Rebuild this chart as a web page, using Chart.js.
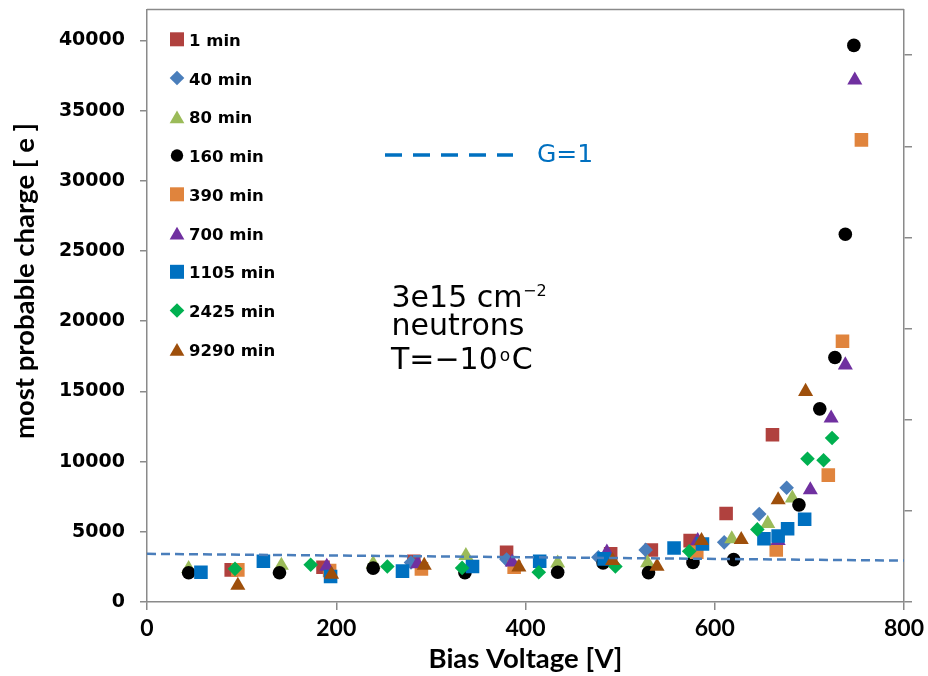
<!DOCTYPE html>
<html>
<head>
<meta charset="utf-8">
<script src="https://cdn.jsdelivr.net/npm/chart.js@4/dist/chart.umd.min.js"></script>
<style>
  html, body { margin: 0; padding: 0; background: #fff; overflow: hidden; }
  canvas { display: block; }
</style>
</head>
<body>
<canvas id="chart" width="928" height="676"></canvas>
<script>
// series names shown in the legend
var seriesNames = ['1 min', '40 min', '80 min', '160 min', '390 min', '700 min', '1105 min', '2425 min', '9290 min'];

// bias voltage [V] and most probable charge [e] per annealing time
var v1 = [89, 186, 282, 380, 490, 533, 574, 612, 661];
var q1 = [2290, 2480, 2900, 3540, 3430, 3710, 4370, 6300, 11920];

var v40 = [279, 380, 477, 527, 610, 647, 676];
var q40 = [2810, 3020, 3190, 3710, 4250, 6260, 8140];

var v80 = [44, 142, 239, 337, 434, 529, 618, 656, 682];
var q80 = [2380, 2600, 2720, 3300, 2760, 2780, 4490, 5590, 7390];

var v160 = [44, 140, 239, 336, 434, 482, 530, 577, 620, 689, 711, 727, 738, 747];
var q160 = [2080, 2080, 2410, 2080, 2120, 2780, 2090, 2820, 3020, 6920, 13760, 17420, 26200, 39650];

var v390 = [96, 193, 290, 388, 581, 665, 720, 735, 755];
var q390 = [2290, 2240, 2360, 2480, 3540, 3710, 9040, 18580, 32920];

var v700 = [190, 286, 386, 486, 582, 667, 701, 723, 738, 748];
var q700 = [2530, 2720, 2830, 3540, 4370, 4370, 7980, 13100, 16880, 37170];

var v1105 = [57, 123, 194, 270, 344, 415, 483, 557, 587, 652, 667, 677, 695];
var q1105 = [2120, 2900, 1820, 2200, 2530, 2900, 3070, 3850, 4130, 4510, 4700, 5220, 5900];

var v2425 = [93, 173, 254, 333, 414, 495, 573, 645, 698, 715, 724];
var q2425 = [2360, 2650, 2530, 2430, 2120, 2530, 3610, 5170, 10200, 10100, 11680];

var v9290 = [96, 195, 293, 393, 492, 539, 586, 628, 667, 696];
var q9290 = [1180, 1960, 2600, 2480, 2950, 2530, 4370, 4440, 7270, 14990];

// G=1 reference line
var gV = [0, 800];
var gQ = [3430, 2950];

var xTicks = [0, 200, 400, 600, 800];

var colors = ['#B0413E', '#4A7EBB', '#9BBB59', '#000000', '#E0843D', '#7030A0', '#0070C0', '#00B050', '#9E4F0B'];
var styles = ['rect', 'rectRot', 'triangle', 'circle', 'rect', 'triangle', 'rect', 'rectRot', 'triangle'];
var radii = { rect: 9.6, rectRot: 7.3, triangle: 8.7, circle: 6.8 };

var allV = [v1, v40, v80, v160, v390, v700, v1105, v2425, v9290];
var allQ = [q1, q40, q80, q160, q390, q700, q1105, q2425, q9290];

var axisGray = '#8A8A8A';
var lato = 'Lato, "Open Sans", sans-serif';
var verdana = '"DejaVu Sans", Verdana, sans-serif';

function pts(xs, ys) {
  return xs.map(function(x, i) { return { x: x, y: ys[i] }; });
}

var datasets = seriesNames.map(function(name, i) {
  return {
    label: name,
    data: pts(allV[i], allQ[i]),
    backgroundColor: colors[i],
    borderColor: colors[i],
    pointStyle: styles[i],
    pointRadius: radii[styles[i]],
    pointBorderWidth: 0,
    pointHoverRadius: radii[styles[i]],
    order: 10 - i
  };
});

datasets.push({
  label: 'G=1',
  type: 'line',
  data: pts(gV, gQ),
  borderColor: '#4A7EBB',
  borderWidth: 2.5,
  borderDash: [9, 5],
  pointRadius: 0,
  fill: false,
  order: 0
});

function marker(ctx, style, x, y, r) {
  ctx.beginPath();
  if (style === 'rect') {
    var s = r * Math.SQRT1_2;
    ctx.rect(x - s, y - s, 2 * s, 2 * s);
  } else if (style === 'rectRot') {
    ctx.moveTo(x, y - r); ctx.lineTo(x + r, y); ctx.lineTo(x, y + r); ctx.lineTo(x - r, y);
    ctx.closePath();
  } else if (style === 'triangle') {
    ctx.moveTo(x, y - r);
    ctx.lineTo(x + r * 0.866, y + r * 0.5);
    ctx.lineTo(x - r * 0.866, y + r * 0.5);
    ctx.closePath();
  } else {
    ctx.arc(x, y, r, 0, Math.PI * 2);
  }
  ctx.fill();
}

// stop the scales from reserving room for overhanging labels
function noPad(scale) {
  scale.paddingTop = 0;
  scale.paddingBottom = 0;
  scale.paddingLeft = 0;
  scale.paddingRight = 0;
}

var decorations = {
  id: 'decorations',
  afterDraw: function(chart) {
    var ctx = chart.ctx, a = chart.chartArea;
    ctx.save();

    // top frame line
    ctx.strokeStyle = axisGray;
    ctx.lineWidth = 1.5;
    ctx.beginPath();
    ctx.moveTo(a.left, a.top);
    ctx.lineTo(a.right, a.top);
    ctx.stroke();

    // y axis title (sits a bit above the middle, like the original)
    ctx.save();
    ctx.translate(25, 281);
    ctx.rotate(-Math.PI / 2);
    ctx.font = 'bold 27.5px ' + lato;
    ctx.fillStyle = '#000';
    ctx.textAlign = 'center';
    ctx.textBaseline = 'middle';
    ctx.fillText('most probable charge [ e ]', 0, 0);
    ctx.restore();

    // legend inside plot
    ctx.font = 'bold 16.5px ' + verdana;
    ctx.textAlign = 'left';
    ctx.textBaseline = 'alphabetic';
    seriesNames.forEach(function(name, i) {
      var cy = 39.3 + i * 38.75;
      var st = styles[i];
      var r = st === 'rect' ? 9.9 : (st === 'circle' ? 6.2 : (st === 'triangle' ? 8.5 : 7.3));
      ctx.fillStyle = colors[i];
      marker(ctx, st, 177, st === 'triangle' ? cy + r / 4 : cy, r);
      ctx.fillStyle = '#000';
      ctx.fillText(name, 189, cy + 6.6);
    });

    // G=1 key
    ctx.strokeStyle = '#0070C0';
    ctx.lineWidth = 3.5;
    ctx.setLineDash([17, 11]);
    ctx.beginPath();
    ctx.moveTo(385, 155);
    ctx.lineTo(513, 155);
    ctx.stroke();
    ctx.setLineDash([]);
    ctx.fillStyle = '#0070C0';
    ctx.font = '25px ' + verdana;
    ctx.fillText('G=1', 537, 161.7);

    // irradiation note
    ctx.fillStyle = '#000';
    ctx.font = '30px ' + verdana;
    ctx.fillText('3e15 cm', 391.5, 307.3);
    ctx.fillText('neutrons', 391.5, 335);
    ctx.fillText('T=\u221210', 391, 369);
    var w = ctx.measureText('T=\u221210').width;
    ctx.fillText('C', 391 + w + 14, 369);
    ctx.font = '16px ' + verdana;
    ctx.fillText('\u22122', 523, 296);
    ctx.font = '17px ' + verdana;
    ctx.fillText('o', 391 + w + 2, 360.5);

    ctx.restore();
  }
};

var options = {
  type: 'scatter',
  data: { datasets: datasets },
  plugins: [decorations],
  options: {
    responsive: false,
    devicePixelRatio: 1,
    animation: false,
    layout: { padding: { top: 5, left: 0, right: 0, bottom: 0 } },
    plugins: {
      legend: { display: false },
      tooltip: { enabled: false }
    },
    scales: {
      x: {
        type: 'linear',
        position: 'bottom',
        min: 0,
        max: 800,
        afterBuildTicks: function(scale) {
          scale.ticks = xTicks.map(function(v) { return { value: v }; });
        },
        afterFit: function(scale) { scale.height = 74; noPad(scale); },
        border: { color: axisGray, width: 1.5 },
        grid: { drawOnChartArea: false, drawTicks: true, tickLength: 8, color: axisGray, lineWidth: 1.5 },
        ticks: {
          color: '#000',
          padding: 5,
          maxRotation: 0,
          font: { family: lato, size: 23, weight: 'bold' }
        },
        title: {
          display: true,
          text: 'Bias Voltage [V]',
          color: '#000',
          padding: { top: 0, bottom: 0 },
          font: { family: lato, size: 27.5, weight: 'bold' }
        }
      },
      y: {
        type: 'linear',
        position: 'left',
        min: 0,
        max: 42200,
        afterBuildTicks: function(scale) {
          var t = [];
          for (var v = 0; v <= 40000; v += 5000) t.push({ value: v });
          scale.ticks = t;
        },
        afterFit: function(scale) { scale.width = 147; noPad(scale); },
        border: { color: axisGray, width: 1.5 },
        grid: { drawOnChartArea: false, drawTicks: true, tickLength: 7, color: axisGray, lineWidth: 1.5 },
        ticks: {
          color: '#000',
          padding: 15,
          font: { family: verdana, size: 19, weight: 'bold' },
          callback: function(v) { return String(v); }
        },
        title: { display: false }
      },
      y2: {
        type: 'linear',
        position: 'right',
        min: 0,
        max: 1.3,
        afterBuildTicks: function(scale) {
          var t = [];
          for (var k = 0; k <= 6; k++) t.push({ value: k * 0.2 });
          scale.ticks = t;
        },
        afterFit: function(scale) { scale.width = 24; noPad(scale); },
        border: { color: axisGray, width: 1.5 },
        grid: { drawOnChartArea: false, drawTicks: true, tickLength: 8, color: axisGray, lineWidth: 1.5 },
        ticks: { display: false }
      }
    }
  }
};

var chart = new Chart(document.getElementById('chart'), options);
</script>
</body>
</html>
